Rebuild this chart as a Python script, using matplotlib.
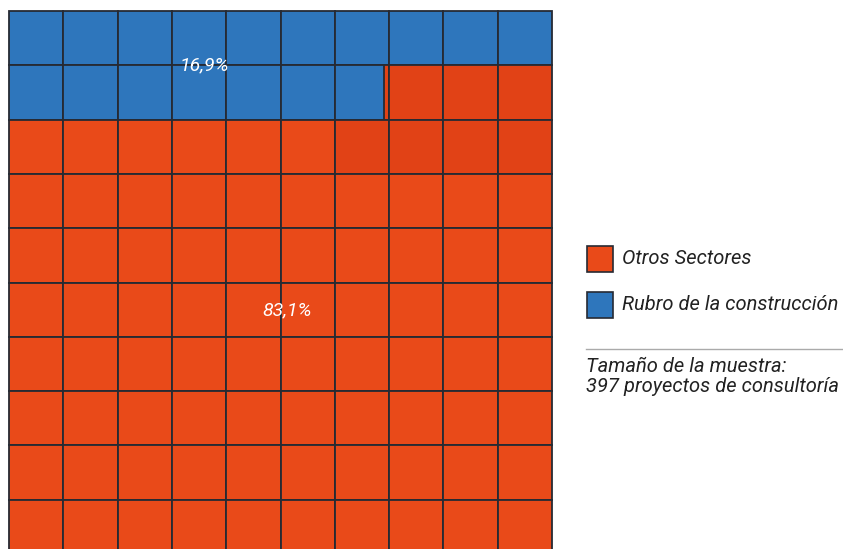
import matplotlib
matplotlib.use("Agg")
import matplotlib.pyplot as plt
from matplotlib.patches import Rectangle

# ---- data ----
categories = ["Otros Sectores", "Rubro de la construcción"]
values = [83.1, 16.9]            # percent
value_labels = ["83,1%", "16,9%"]
colors = ["#E94A19", "#2E76BC"]
shade_color = "#E14216"
shaded_cells = [16, 17, 18, 19, 26, 27, 28, 29]   # slightly darker tiles
note_lines = ["Tamaño de la muestra:", "397 proyectos de consultoría"]

FONT = "Roboto"
n_cols, n_rows = 10, 10

fig = plt.figure(figsize=(8.43, 5.49), dpi=100)
ax = fig.add_axes([0, 0, 1, 1])
ax.set_xlim(0, 843); ax.set_ylim(549, 0); ax.axis('off')

x0, y0, cs = 9.0, 11.0, 54.3
edge = "#262A33"
lw = 1.3

blue_val = values[1]
n_full = int(blue_val)
frac = blue_val - n_full

for i in range(n_cols * n_rows):
    r, c = divmod(i, n_cols)
    x = x0 + c * cs
    y = y0 + r * cs
    ocol = shade_color if i in shaded_cells else colors[0]
    if i < n_full:
        ax.add_patch(Rectangle((x, y), cs, cs, fc=colors[1], ec=edge, lw=lw))
    elif i == n_full and frac > 0:
        ax.add_patch(Rectangle((x, y), cs, cs, fc=ocol, ec=edge, lw=lw))
        ax.add_patch(Rectangle((x, y), cs * frac, cs, fc=colors[1], ec=edge, lw=lw))
    else:
        ax.add_patch(Rectangle((x, y), cs, cs, fc=ocol, ec=edge, lw=lw))

# value labels
ax.text(204, 65, value_labels[1], fontfamily=FONT, fontstyle='italic', fontsize=14,
        color='white', ha='center', va='center')
ax.text(287, 310, value_labels[0], fontfamily=FONT, fontstyle='italic', fontsize=14,
        color='white', ha='center', va='center')

# legend
leg_y = [259, 305]
for k, cat in enumerate(categories):
    ax.add_patch(Rectangle((587, leg_y[k] - 13), 26, 26, fc=colors[k], ec=edge, lw=1.2))
    ax.text(622, leg_y[k], cat, fontfamily=FONT, fontstyle='italic', fontsize=14.5,
            color='#222222', ha='left', va='center')

ax.plot([586, 843], [349, 349], color='#AAAAAA', lw=1)
for k, line in enumerate(note_lines):
    ax.text(586, 366 + 20 * k, line, fontfamily=FONT, fontstyle='italic', fontsize=14.5,
            color='#222222', ha='left', va='center')

fig.savefig("out.png", dpi=100)
